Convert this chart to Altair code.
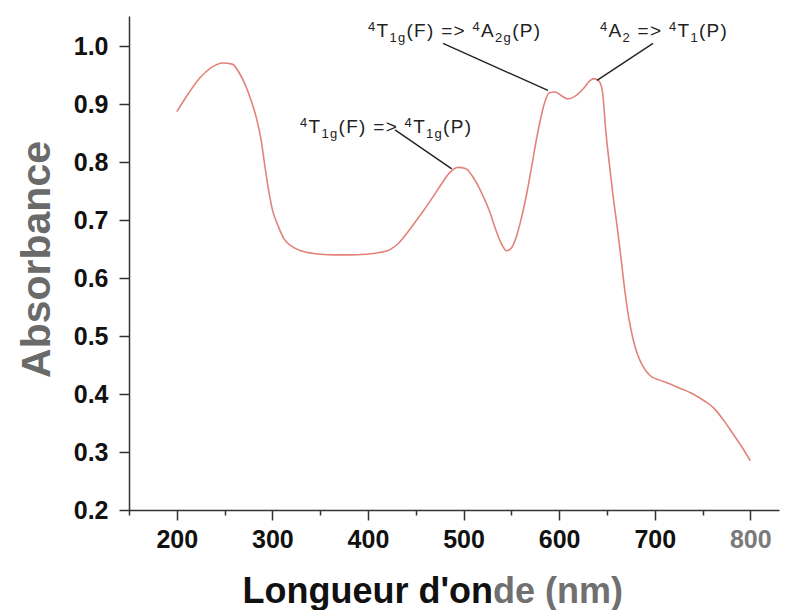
import altair as alt
import pandas as pd

# ---- spectrum ----
wavelength = [200, 212, 224, 236, 248, 258, 266, 272, 278, 283, 288, 292, 296, 300,
              306, 312, 320, 330, 345, 363, 380, 398, 412, 423, 432, 440, 450, 458,
              468, 476, 485, 494, 502, 510, 518, 527, 534, 540, 545, 550, 555, 560,
              566, 571, 576, 580, 584, 590, 596, 602, 609, 616, 625, 632, 636, 641,
              645, 649, 653, 657, 661, 665, 669, 673, 677, 682, 688, 695, 705, 712,
              725, 740, 752, 761, 772, 782, 791, 800]
absorbance = [0.887, 0.918, 0.945, 0.963, 0.971, 0.969, 0.952, 0.932, 0.905, 0.878,
              0.840, 0.795, 0.752, 0.718, 0.690, 0.668, 0.655, 0.647, 0.642, 0.640,
              0.640, 0.641, 0.644, 0.649, 0.660, 0.676, 0.698, 0.716, 0.740, 0.760,
              0.781, 0.791, 0.789, 0.774, 0.750, 0.716, 0.682, 0.658, 0.647, 0.652,
              0.670, 0.700, 0.745, 0.790, 0.837, 0.870, 0.898, 0.920, 0.921, 0.915,
              0.909, 0.913, 0.926, 0.940, 0.944, 0.941, 0.925, 0.850, 0.790, 0.734,
              0.685, 0.630, 0.575, 0.530, 0.497, 0.468, 0.447, 0.432, 0.424, 0.420,
              0.411, 0.400, 0.388, 0.377, 0.355, 0.331, 0.309, 0.285]

x_ticks = [150, 200, 250, 300, 350, 400, 450, 500, 550, 600, 650, 700, 750, 800]
y_ticks = [0.2, 0.25, 0.3, 0.35, 0.4, 0.45, 0.5, 0.55, 0.6, 0.65, 0.7, 0.75,
           0.8, 0.85, 0.9, 0.95, 1.0, 1.05]

# ---- annotations: segments (text, kind) ----
ann_segments = [
    [("4", "sup"), ("T", "n"), ("1g", "sub"), ("(F) => ", "n"), ("4", "sup"),
     ("A", "n"), ("2g", "sub"), ("(P)", "n")],
    [("4", "sup"), ("A", "n"), ("2", "sub"), (" => ", "n"), ("4", "sup"),
     ("T", "n"), ("1", "sub"), ("(P)", "n")],
    [("4", "sup"), ("T", "n"), ("1g", "sub"), ("(F) => ", "n"), ("4", "sup"),
     ("T", "n"), ("1g", "sub"), ("(P)", "n")],
]
ann_x = [400.0, 642.7, 328.9]
ann_y = [1.015, 1.015, 0.851]
lead_x1 = [478.5, 698.2, 428.3]
lead_y1 = [1.0047, 1.0047, 0.8557]
lead_x2 = [588.3, 639.6, 487.7]
lead_y2 = [0.9236, 0.941, 0.7884]

X_DOMAIN = [150, 830]
Y_DOMAIN = [0.2, 1.052]
W, H = 650, 494
PX_X = W / (X_DOMAIN[1] - X_DOMAIN[0])   # pixels per nm
PX_Y = H / (Y_DOMAIN[1] - Y_DOMAIN[0])   # pixels per absorbance unit

# Arial / Liberation Sans advance widths (per 1000 em)
ADV = {"4": 556, "T": 611, "1": 556, "g": 556, "(": 333, "F": 611, ")": 333,
       " ": 278, "=": 584, ">": 584, "A": 667, "2": 556, "P": 667}
FS_N, FS_S, TRACK = 19, 13, 1.3
DY = {"n": 0, "sup": -6, "sub": 5}

rows_n, rows_s = [], []
for segs, ax, ay in zip(ann_segments, ann_x, ann_y):
    off = 0.0
    for txt, kind in segs:
        fs = FS_N if kind == "n" else FS_S
        for ch in txt:
            row = {"wl": ax + off / PX_X, "ab": ay - DY[kind] / PX_Y, "ch": ch}
            (rows_n if kind == "n" else rows_s).append(row)
            off += ADV[ch] / 1000 * fs + TRACK
chars_n = pd.DataFrame(rows_n)
chars_s = pd.DataFrame(rows_s)

spec = pd.DataFrame({"wl": wavelength, "ab": absorbance})
leads = pd.DataFrame({"x1": lead_x1, "y1": lead_y1, "x2": lead_x2, "y2": lead_y2})

xscale = alt.Scale(domain=X_DOMAIN, nice=False, zero=False)
yscale = alt.Scale(domain=Y_DOMAIN, nice=False, zero=False)

FONT = "Liberation Sans"
axis_common = dict(
    grid=False, domainColor="#333", domainWidth=1.5, tickColor="#333", tickWidth=1.5,
    labelFont=FONT, labelFontWeight="bold", labelFontSize=25,
    labelOverlap=False, labelFlush=False,
)

xaxis = alt.Axis(
    values=x_ticks, title=None, format="d",
    labelExpr="datum.value % 100 === 0 ? datum.label : ''",
    tickSize={"condition": {"test": "datum.value % 100 === 0", "value": 10}, "value": 5},
    labelColor={"condition": {"test": "datum.value === 800", "value": "#7a7a7a"}, "value": "#111"},
    labelPadding=7, **axis_common,
)
yaxis = alt.Axis(
    values=y_ticks, format=".1f", title="Absorbance",
    labelExpr="round(datum.value * 100) % 10 === 0 ? datum.label : ''",
    tickSize={"condition": {"test": "round(datum.value * 100) % 10 === 0", "value": 10}, "value": 5},
    labelColor="#111", labelPadding=11,
    titleFont=FONT, titleFontWeight="bold", titleFontSize=41, titleColor="#6a6a6a",
    titleX=-80, titleY=243, titleBaseline="alphabetic", titleAngle=270,
    **axis_common,
)

curve = alt.Chart(spec).mark_line(color="#e2837a", strokeWidth=1.6, interpolate="monotone").encode(
    x=alt.X("wl:Q", scale=xscale, axis=xaxis),
    y=alt.Y("ab:Q", scale=yscale, axis=yaxis),
)

lines = alt.Chart(leads).mark_rule(color="#222", strokeWidth=1.4).encode(
    x=alt.X("x1:Q", scale=xscale), y=alt.Y("y1:Q", scale=yscale),
    x2="x2:Q", y2="y2:Q",
)

labels_n = alt.Chart(chars_n).mark_text(
    align="left", baseline="alphabetic", font=FONT, fontSize=FS_N, color="#222"
).encode(x=alt.X("wl:Q", scale=xscale), y=alt.Y("ab:Q", scale=yscale), text="ch:N")
labels_s = alt.Chart(chars_s).mark_text(
    align="left", baseline="alphabetic", font=FONT, fontSize=FS_S, color="#222"
).encode(x=alt.X("wl:Q", scale=xscale), y=alt.Y("ab:Q", scale=yscale), text="ch:N")

xt1 = alt.Chart(pd.DataFrame({"t": ["Longueur d'on"]})).mark_text(
    align="right", baseline="alphabetic", font=FONT, fontWeight="bold", fontSize=36, color="#111"
).encode(x=alt.value(364), y=alt.value(587), text="t:N")
xt2 = alt.Chart(pd.DataFrame({"t": ["de (nm)"]})).mark_text(
    align="left", baseline="alphabetic", font=FONT, fontWeight="bold", fontSize=36, color="#707070"
).encode(x=alt.value(364), y=alt.value(587), text="t:N")

chart = alt.layer(curve, lines, labels_n, labels_s, xt1, xt2).properties(
    width=W, height=H,
    autosize=alt.AutoSizeParams(type="none"),
    padding={"left": 121, "top": 8, "right": 2, "bottom": 100},
).configure_view(stroke=None)

chart.save("out.html", embed_options={"renderer": "svg", "actions": False})
